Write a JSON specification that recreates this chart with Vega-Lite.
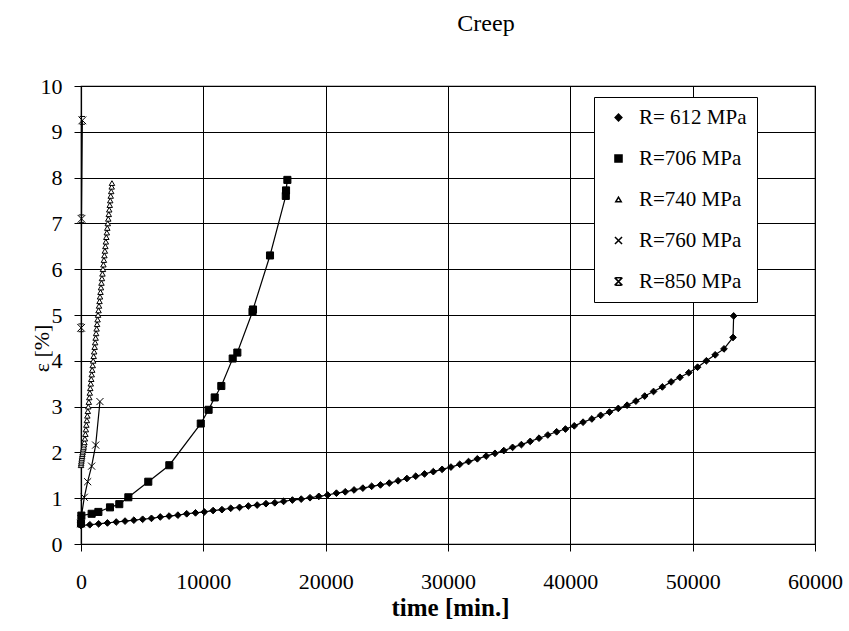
{
  "$schema": "https://vega.github.io/schema/vega-lite/v6.json",
  "width": 734,
  "height": 458,
  "autosize": {"type": "none"},
  "padding": {"left": 81, "top": 86, "right": 34, "bottom": 87},
  "background": "white",
  "title": {"text": "Creep", "fontSize": 24, "font": "Liberation Serif", "fontWeight": "normal", "color": "black", "anchor": "middle", "dx": 38, "offset": 20, "baseline": "alphabetic"},
  "config": {
    "font": "Liberation Serif",
    "view": {"stroke": "black", "strokeWidth": 1.2},
    "axis": {
      "gridColor": "black", "gridOpacity": 1, "gridWidth": 1,
      "domainColor": "black", "domainWidth": 1.2, "tickColor": "black", "tickWidth": 1, "tickSize": 7,
      "labelColor": "black", "labelFont": "Liberation Serif", "labelFontSize": 22,
      "titleColor": "black", "titleFont": "Liberation Serif"
    },
    "legend": {
      "title": null, "orient": "none", "legendX": 513, "legendY": 11, "padding": 10,
      "strokeColor": "black", "fillColor": "white", "labelFont": "Liberation Serif", "labelFontSize": 21, "labelColor": "black",
      "rowPadding": 19, "symbolOffset": 4, "labelOffset": 10, "symbolSize": 30
    }
  },
  "data": {"values": [
    {"s":"R= 612 MPa","t":0,"e":0.40},{"s":"R= 612 MPa","t":720,"e":0.42},{"s":"R= 612 MPa","t":1440,"e":0.44},{"s":"R= 612 MPa","t":2160,"e":0.46},{"s":"R= 612 MPa","t":2880,"e":0.48},{"s":"R= 612 MPa","t":3600,"e":0.50},{"s":"R= 612 MPa","t":4320,"e":0.52},{"s":"R= 612 MPa","t":5040,"e":0.54},{"s":"R= 612 MPa","t":5760,"e":0.56},{"s":"R= 612 MPa","t":6480,"e":0.59},{"s":"R= 612 MPa","t":7200,"e":0.61},{"s":"R= 612 MPa","t":7920,"e":0.63},{"s":"R= 612 MPa","t":8640,"e":0.66},{"s":"R= 612 MPa","t":9360,"e":0.68},{"s":"R= 612 MPa","t":10080,"e":0.70},{"s":"R= 612 MPa","t":10800,"e":0.73},{"s":"R= 612 MPa","t":11520,"e":0.75},{"s":"R= 612 MPa","t":12240,"e":0.78},{"s":"R= 612 MPa","t":12960,"e":0.80},{"s":"R= 612 MPa","t":13680,"e":0.83},{"s":"R= 612 MPa","t":14400,"e":0.85},{"s":"R= 612 MPa","t":15120,"e":0.88},{"s":"R= 612 MPa","t":15840,"e":0.90},{"s":"R= 612 MPa","t":16560,"e":0.93},{"s":"R= 612 MPa","t":17280,"e":0.96},{"s":"R= 612 MPa","t":18000,"e":0.98},{"s":"R= 612 MPa","t":18720,"e":1.01},{"s":"R= 612 MPa","t":19440,"e":1.04},{"s":"R= 612 MPa","t":20160,"e":1.07},{"s":"R= 612 MPa","t":20880,"e":1.11},{"s":"R= 612 MPa","t":21600,"e":1.14},{"s":"R= 612 MPa","t":22320,"e":1.18},{"s":"R= 612 MPa","t":23040,"e":1.22},{"s":"R= 612 MPa","t":23760,"e":1.26},{"s":"R= 612 MPa","t":24480,"e":1.29},{"s":"R= 612 MPa","t":25200,"e":1.33},{"s":"R= 612 MPa","t":25920,"e":1.38},{"s":"R= 612 MPa","t":26640,"e":1.43},{"s":"R= 612 MPa","t":27360,"e":1.48},{"s":"R= 612 MPa","t":28080,"e":1.53},{"s":"R= 612 MPa","t":28800,"e":1.58},{"s":"R= 612 MPa","t":29520,"e":1.63},{"s":"R= 612 MPa","t":30240,"e":1.68},{"s":"R= 612 MPa","t":30960,"e":1.74},{"s":"R= 612 MPa","t":31680,"e":1.80},{"s":"R= 612 MPa","t":32400,"e":1.86},{"s":"R= 612 MPa","t":33120,"e":1.92},{"s":"R= 612 MPa","t":33840,"e":1.98},{"s":"R= 612 MPa","t":34560,"e":2.04},{"s":"R= 612 MPa","t":35280,"e":2.11},{"s":"R= 612 MPa","t":36000,"e":2.17},{"s":"R= 612 MPa","t":36720,"e":2.24},{"s":"R= 612 MPa","t":37440,"e":2.31},{"s":"R= 612 MPa","t":38160,"e":2.38},{"s":"R= 612 MPa","t":38880,"e":2.45},{"s":"R= 612 MPa","t":39600,"e":2.51},{"s":"R= 612 MPa","t":40320,"e":2.58},{"s":"R= 612 MPa","t":41040,"e":2.66},{"s":"R= 612 MPa","t":41760,"e":2.73},{"s":"R= 612 MPa","t":42480,"e":2.81},{"s":"R= 612 MPa","t":43200,"e":2.88},{"s":"R= 612 MPa","t":43920,"e":2.96},{"s":"R= 612 MPa","t":44640,"e":3.03},{"s":"R= 612 MPa","t":45360,"e":3.12},{"s":"R= 612 MPa","t":46080,"e":3.23},{"s":"R= 612 MPa","t":46800,"e":3.33},{"s":"R= 612 MPa","t":47520,"e":3.43},{"s":"R= 612 MPa","t":48240,"e":3.54},{"s":"R= 612 MPa","t":48960,"e":3.64},{"s":"R= 612 MPa","t":49680,"e":3.74},{"s":"R= 612 MPa","t":50400,"e":3.86},{"s":"R= 612 MPa","t":51120,"e":4.00},{"s":"R= 612 MPa","t":51840,"e":4.13},{"s":"R= 612 MPa","t":52560,"e":4.26},{"s":"R= 612 MPa","t":53300,"e":4.51},{"s":"R= 612 MPa","t":53350,"e":4.98},
    {"s":"R=706 MPa","t":0,"e":0.45},{"s":"R=706 MPa","t":30,"e":0.62},{"s":"R=706 MPa","t":870,"e":0.66},{"s":"R=706 MPa","t":1420,"e":0.70},{"s":"R=706 MPa","t":2370,"e":0.80},{"s":"R=706 MPa","t":3130,"e":0.87},{"s":"R=706 MPa","t":3870,"e":1.02},{"s":"R=706 MPa","t":5500,"e":1.36},{"s":"R=706 MPa","t":7220,"e":1.72},{"s":"R=706 MPa","t":9790,"e":2.63},{"s":"R=706 MPa","t":10430,"e":2.93},{"s":"R=706 MPa","t":10930,"e":3.20},{"s":"R=706 MPa","t":11470,"e":3.45},{"s":"R=706 MPa","t":12400,"e":4.05},{"s":"R=706 MPa","t":12780,"e":4.18},{"s":"R=706 MPa","t":14020,"e":5.07},{"s":"R=706 MPa","t":14060,"e":5.12},{"s":"R=706 MPa","t":15450,"e":6.30},{"s":"R=706 MPa","t":16740,"e":7.60},{"s":"R=706 MPa","t":16760,"e":7.72},{"s":"R=706 MPa","t":16870,"e":7.95},
    {"s":"R=740 MPa","t":0,"e":1.72},{"s":"R=740 MPa","t":15,"e":1.76},{"s":"R=740 MPa","t":30,"e":1.80},{"s":"R=740 MPa","t":50,"e":1.84},{"s":"R=740 MPa","t":70,"e":1.88},{"s":"R=740 MPa","t":90,"e":1.92},{"s":"R=740 MPa","t":110,"e":1.96},{"s":"R=740 MPa","t":135,"e":2.00},{"s":"R=740 MPa","t":160,"e":2.04},{"s":"R=740 MPa","t":190,"e":2.08},{"s":"R=740 MPa","t":220,"e":2.12},{"s":"R=740 MPa","t":250,"e":2.17},{"s":"R=740 MPa","t":280,"e":2.22},
    {"s":"R=740 MPa","t":320,"e":2.3},{"s":"R=740 MPa","t":360,"e":2.4},{"s":"R=740 MPa","t":400,"e":2.5},{"s":"R=740 MPa","t":439,"e":2.6},{"s":"R=740 MPa","t":479,"e":2.7},{"s":"R=740 MPa","t":519,"e":2.8},{"s":"R=740 MPa","t":559,"e":2.9},{"s":"R=740 MPa","t":599,"e":3.0},{"s":"R=740 MPa","t":638,"e":3.1},{"s":"R=740 MPa","t":678,"e":3.2},{"s":"R=740 MPa","t":718,"e":3.3},{"s":"R=740 MPa","t":758,"e":3.4},{"s":"R=740 MPa","t":798,"e":3.5},{"s":"R=740 MPa","t":837,"e":3.6},{"s":"R=740 MPa","t":877,"e":3.7},{"s":"R=740 MPa","t":917,"e":3.8},{"s":"R=740 MPa","t":957,"e":3.9},{"s":"R=740 MPa","t":997,"e":4.0},{"s":"R=740 MPa","t":1036,"e":4.1},{"s":"R=740 MPa","t":1076,"e":4.2},{"s":"R=740 MPa","t":1116,"e":4.3},{"s":"R=740 MPa","t":1156,"e":4.4},{"s":"R=740 MPa","t":1196,"e":4.5},{"s":"R=740 MPa","t":1235,"e":4.6},{"s":"R=740 MPa","t":1275,"e":4.7},{"s":"R=740 MPa","t":1315,"e":4.8},{"s":"R=740 MPa","t":1355,"e":4.9},{"s":"R=740 MPa","t":1395,"e":5.0},{"s":"R=740 MPa","t":1434,"e":5.1},{"s":"R=740 MPa","t":1474,"e":5.2},{"s":"R=740 MPa","t":1514,"e":5.3},{"s":"R=740 MPa","t":1554,"e":5.4},{"s":"R=740 MPa","t":1594,"e":5.5},{"s":"R=740 MPa","t":1633,"e":5.6},{"s":"R=740 MPa","t":1673,"e":5.7},{"s":"R=740 MPa","t":1713,"e":5.8},{"s":"R=740 MPa","t":1753,"e":5.9},{"s":"R=740 MPa","t":1793,"e":6.0},{"s":"R=740 MPa","t":1832,"e":6.1},{"s":"R=740 MPa","t":1872,"e":6.2},{"s":"R=740 MPa","t":1912,"e":6.3},{"s":"R=740 MPa","t":1952,"e":6.4},{"s":"R=740 MPa","t":1992,"e":6.5},{"s":"R=740 MPa","t":2031,"e":6.6},{"s":"R=740 MPa","t":2071,"e":6.7},{"s":"R=740 MPa","t":2111,"e":6.8},{"s":"R=740 MPa","t":2151,"e":6.9},{"s":"R=740 MPa","t":2191,"e":7.0},{"s":"R=740 MPa","t":2230,"e":7.1},{"s":"R=740 MPa","t":2270,"e":7.2},{"s":"R=740 MPa","t":2310,"e":7.3},{"s":"R=740 MPa","t":2350,"e":7.4},{"s":"R=740 MPa","t":2390,"e":7.5},{"s":"R=740 MPa","t":2429,"e":7.6},{"s":"R=740 MPa","t":2469,"e":7.7},{"s":"R=740 MPa","t":2509,"e":7.8},{"s":"R=740 MPa","t":2530,"e":7.88},
    {"s":"R=760 MPa","t":0,"e":0.55},{"s":"R=760 MPa","t":270,"e":1.02},{"s":"R=760 MPa","t":545,"e":1.36},{"s":"R=760 MPa","t":870,"e":1.70},{"s":"R=760 MPa","t":1200,"e":2.16},{"s":"R=760 MPa","t":1550,"e":3.11},
    {"s":"R=850 MPa","t":0,"e":0.45},{"s":"R=850 MPa","t":10,"e":4.72},{"s":"R=850 MPa","t":40,"e":7.10},{"s":"R=850 MPa","t":110,"e":9.25}
  ]},
  "encoding": {
    "x": {"field": "t", "type": "quantitative", "scale": {"domain": [0, 60000], "nice": false, "zero": false},
      "axis": {"values": [0,10000,20000,30000,40000,50000,60000], "format": "d", "grid": true, "labelPadding": 20, "labelFlush": false, "labelOverlap": false,
        "title": "time [min.]", "titleFontSize": 25, "titleFontWeight": "bold", "titleX": 369, "titleY": 71, "titleBaseline": "alphabetic", "titleAnchor": null, "titleAlign": "center"}},
    "y": {"field": "e", "type": "quantitative", "scale": {"domain": [0, 10], "nice": false, "zero": false},
      "axis": {"values": [0,1,2,3,4,5,6,7,8,9,10], "grid": true, "labelPadding": 12, "labelFlush": false, "labelOverlap": false,
        "title": "ε [%]", "titleFontSize": 22, "titleFontWeight": "normal", "titleX": -40, "titleY": 262, "titleAngle": -90, "titleAlign": "center", "titleBaseline": "middle", "titleAnchor": null}}
  },
  "layer": [
    {"mark": {"type": "line", "color": "black", "strokeWidth": 1.2, "clip": true},
     "encoding": {"detail": {"field": "s", "type": "nominal"}}},
    {"mark": {"type": "point", "filled": true, "stroke": "black", "strokeWidth": 1, "opacity": 1},
     "encoding": {
       "shape": {"field": "s", "type": "nominal",
         "scale": {"domain": ["R= 612 MPa","R=706 MPa","R=740 MPa","R=760 MPa","R=850 MPa"],
                   "range": ["diamond","square","triangle-up","M-1,-1L1,1M-1,1L1,-1","M-1,-1L1,1M-1,1L1,-1M-0.7,-1L0.7,-1M-0.7,1L0.7,1"]},
         "legend": {"encode": {"symbols": {
             "shape": {"condition": [
                 {"test": "datum.value === 'R= 612 MPa'", "value": "M-5.1,0L5.1,0M0,-1.2L1.2,0L0,1.2L-1.2,0Z"},
                 {"test": "datum.value === 'R=706 MPa'", "value": "M-5.1,0L5.1,0M-1,-1L1,-1L1,1L-1,1Z"},
                 {"test": "datum.value === 'R=740 MPa'", "value": "M-5.1,0L-0.9,0M0.9,0L5.1,0M0,-1.1L1,0.8L-1,0.8Z"},
                 {"test": "datum.value === 'R=760 MPa'", "value": "M-5.1,0L5.1,0M-1,-1L1,1M-1,1L1,-1"}],
               "value": "M-5.1,0L5.1,0M-1,-1L1,1M-1,1L1,-1M-0.7,-1L0.7,-1M-0.7,1L0.7,1"},
             "size": {"value": 30}}}}},
       "fill": {"field": "s", "type": "nominal",
         "scale": {"domain": ["R= 612 MPa","R=706 MPa","R=740 MPa","R=760 MPa","R=850 MPa"], "range": ["black","black","white","black","black"]},
         "legend": {"encode": {"symbols": {
             "shape": {"condition": [
                 {"test": "datum.value === 'R= 612 MPa'", "value": "M-5.1,0L5.1,0M0,-1.2L1.2,0L0,1.2L-1.2,0Z"},
                 {"test": "datum.value === 'R=706 MPa'", "value": "M-5.1,0L5.1,0M-1,-1L1,-1L1,1L-1,1Z"},
                 {"test": "datum.value === 'R=740 MPa'", "value": "M-5.1,0L-0.9,0M0.9,0L5.1,0M0,-1.1L1,0.8L-1,0.8Z"},
                 {"test": "datum.value === 'R=760 MPa'", "value": "M-5.1,0L5.1,0M-1,-1L1,1M-1,1L1,-1"}],
               "value": "M-5.1,0L5.1,0M-1,-1L1,1M-1,1L1,-1M-0.7,-1L0.7,-1M-0.7,1L0.7,1"},
             "size": {"value": 30}}}}},
       "size": {"field": "s", "type": "nominal",
         "scale": {"type": "ordinal", "domain": ["R= 612 MPa","R=706 MPa","R=740 MPa","R=760 MPa","R=850 MPa"], "range": [45,50,30,50,60]},
         "legend": {"encode": {"symbols": {
             "shape": {"condition": [
                 {"test": "datum.value === 'R= 612 MPa'", "value": "M-5.1,0L5.1,0M0,-1.2L1.2,0L0,1.2L-1.2,0Z"},
                 {"test": "datum.value === 'R=706 MPa'", "value": "M-5.1,0L5.1,0M-1,-1L1,-1L1,1L-1,1Z"},
                 {"test": "datum.value === 'R=740 MPa'", "value": "M-5.1,0L-0.9,0M0.9,0L5.1,0M0,-1.1L1,0.8L-1,0.8Z"},
                 {"test": "datum.value === 'R=760 MPa'", "value": "M-5.1,0L5.1,0M-1,-1L1,1M-1,1L1,-1"}],
               "value": "M-5.1,0L5.1,0M-1,-1L1,1M-1,1L1,-1M-0.7,-1L0.7,-1M-0.7,1L0.7,1"},
             "size": {"value": 30}}}}}
     }}
  ]
}
